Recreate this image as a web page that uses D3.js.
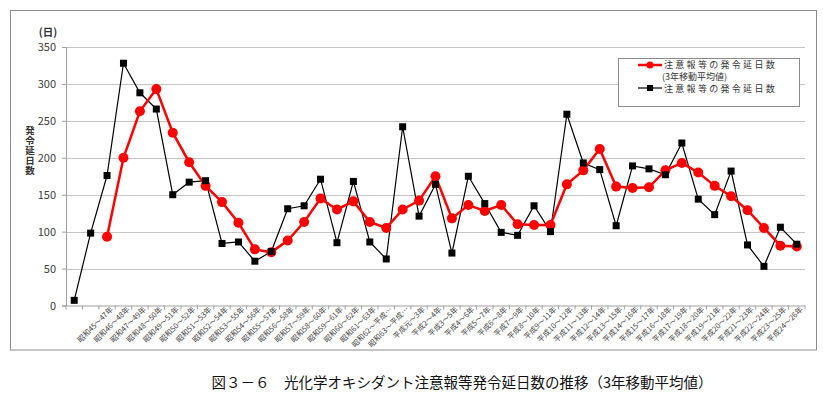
<!DOCTYPE html>
<html>
<head>
<meta charset="utf-8">
<script src="https://cdn.jsdelivr.net/npm/d3@7"></script>
<style>
  body { margin: 0; background: #fff; }
  text { font-family: "Noto Sans CJK JP", "Noto Sans", sans-serif; }
</style>
</head>
<body>
<div id="chart"></div>
<script>
// 年度ラベル（3年移動平均の期間）
var labels = ["", "",
  "昭和45～47年", "昭和46～48年", "昭和47～49年", "昭和48～50年", "昭和49～51年",
  "昭和50～52年", "昭和51～53年", "昭和52～54年", "昭和53～55年", "昭和54～56年",
  "昭和55～57年", "昭和56～58年", "昭和57～59年", "昭和58～60年", "昭和59～61年",
  "昭和60～62年", "昭和61～63年", "昭和62～平成…", "昭和63～平成…",
  "平成元～3年", "平成2～4年", "平成3～5年", "平成4～6年", "平成5～7年",
  "平成6～8年", "平成7～9年", "平成8～10年", "平成9～11年", "平成10～12年",
  "平成11～13年", "平成12～14年", "平成13～15年", "平成14～16年", "平成15～17年",
  "平成16～18年", "平成17～19年", "平成18～20年", "平成19～21年", "平成20～22年",
  "平成21～23年", "平成22～24年", "平成23～25年", "平成24～26年"];

// 注意報等の発令延日数
var days = [7, 98, 176, 328, 288, 266, 150, 167, 169, 84,
  86, 60, 73, 131, 135, 171, 85, 168, 86, 63,
  242, 121, 164, 71, 175, 138, 99, 95, 135, 100,
  259, 193, 184, 108, 189, 185, 177, 220, 144, 123,
  182, 82, 53, 106, 83];

// 3年移動平均値 (先頭2つは値なし)
var avg = [null, null, 93, 200, 263, 293, 234, 194, 162, 140,
  112, 76, 72, 88, 113, 145, 130, 141, 113, 105,
  130, 142, 175, 118, 136, 128, 136, 110, 109, 109,
  164, 183, 212, 161, 159, 160, 183, 193, 180, 162,
  148, 129, 105, 81, 80];

var yTicks = [0, 50, 100, 150, 200, 250, 300, 350];

var W = 823, H = 396;
var pLeft = 66, pRight = 805, pTop = 47, pBottom = 305.5;

var svg = d3.select("#chart").append("svg")
  .attr("width", W).attr("height", H);

// 外枠
svg.append("rect")
  .attr("x", 10.5).attr("y", 10.5)
  .attr("width", 806).attr("height", 339.5)
  .attr("fill", "none").attr("stroke", "#8c8c8c").attr("stroke-width", 1);

var x = d3.scaleBand()
  .domain(d3.range(labels.length))
  .range([pLeft, pRight]);

var y = d3.scaleLinear()
  .domain([0, 350])
  .range([pBottom, pTop]);

// グリッド線
svg.append("g")
  .selectAll("line")
  .data(yTicks.slice(1))
  .enter().append("line")
  .attr("x1", pLeft).attr("x2", pRight)
  .attr("y1", function(d){ return Math.round(y(d)) + 0.5; })
  .attr("y2", function(d){ return Math.round(y(d)) + 0.5; })
  .attr("stroke", "#c4c4c4").attr("stroke-width", 1);

// Y軸
var yAxis = d3.axisLeft(y).tickValues(yTicks).tickSize(4).tickPadding(6);
var gy = svg.append("g")
  .attr("transform", "translate(" + pLeft + ",0)")
  .call(yAxis);
gy.select(".domain").attr("stroke", "#a0a0a0");
gy.selectAll(".tick line").attr("stroke", "#a0a0a0");
gy.selectAll("text")
  .style("font-size", "11px")
  .attr("fill", "#404040");

// X軸
var xAxis = d3.axisBottom(x)
  .tickFormat(function(i){ return labels[i]; })
  .tickSize(0);
var gx = svg.append("g")
  .attr("transform", "translate(0," + pBottom + ")")
  .call(xAxis);
gx.select(".domain").attr("stroke", "#a0a0a0");
gx.selectAll("text")
  .style("font-size", "7.5px")
  .attr("fill", "#404040")
  .style("text-anchor", "end")
  .attr("dx", "0.2em")
  .attr("dy", "0.5em")
  .attr("y", 4)
  .attr("transform", "rotate(-45)");

// 区切りの目盛り
svg.append("g")
  .selectAll("line")
  .data(d3.range(labels.length + 1))
  .enter().append("line")
  .attr("x1", function(i){ return pLeft + i * x.step(); })
  .attr("x2", function(i){ return pLeft + i * x.step(); })
  .attr("y1", pBottom).attr("y2", pBottom + 4)
  .attr("stroke", "#a0a0a0");

// 軸タイトル
svg.append("text")
  .attr("x", 48).attr("y", 36)
  .attr("text-anchor", "middle")
  .style("font-size", "10.5px").style("font-weight", "bold")
  .attr("fill", "#333")
  .text("(日)");

// 縦書きの軸タイトル
svg.append("text")
  .attr("x", 30).attr("y", 126)
  .style("writing-mode", "vertical-rl")
  .style("font-size", "9.5px").style("font-weight", "bold")
  .style("letter-spacing", "0.5px")
  .attr("fill", "#333")
  .text("発令延日数");

var cx = function(i){ return x(i) + x.bandwidth() / 2; };

// 黒線：注意報等の発令延日数
var lineBlack = d3.line()
  .x(function(d, i){ return cx(i); })
  .y(function(d){ return y(d); });

// 赤線：3年移動平均
var lineRed = d3.line()
  .defined(function(d){ return d !== null; })
  .x(function(d, i){ return cx(i); })
  .y(function(d){ return y(d); });

svg.append("path")
  .attr("d", lineBlack(days))
  .attr("fill", "none").attr("stroke", "#000").attr("stroke-width", 1.2);

svg.append("path")
  .attr("d", lineRed(avg))
  .attr("fill", "none").attr("stroke", "#ff0000").attr("stroke-width", 2.5);

svg.append("g").selectAll("circle")
  .data(avg.map(function(v, i){ return {v: v, i: i}; }).filter(function(d){ return d.v !== null; }))
  .enter().append("circle")
  .attr("cx", function(d){ return cx(d.i); })
  .attr("cy", function(d){ return y(d.v); })
  .attr("r", 5)
  .attr("fill", "#ff0000");

svg.append("g").selectAll("rect")
  .data(days)
  .enter().append("rect")
  .attr("x", function(d, i){ return cx(i) - 3.5; })
  .attr("y", function(d){ return y(d) - 3.5; })
  .attr("width", 7).attr("height", 7)
  .attr("fill", "#000");

// 凡例
var lg = svg.append("g");
lg.append("rect")
  .attr("x", 618.5).attr("y", 58.5)
  .attr("width", 181).attr("height", 48)
  .attr("fill", "#fff").attr("stroke", "#8c8c8c");
lg.append("line")
  .attr("x1", 638).attr("x2", 662).attr("y1", 65).attr("y2", 65)
  .attr("stroke", "#ff0000").attr("stroke-width", 2.5);
lg.append("circle").attr("cx", 650).attr("cy", 65).attr("r", 3.5).attr("fill", "#ff0000");
lg.append("text").attr("x", 664).attr("y", 68)
  .style("font-size", "9px").style("letter-spacing", "2.3px").attr("fill", "#333")
  .text("注意報等の発令延日数");
lg.append("text").attr("x", 662).attr("y", 79.5)
  .style("font-size", "9px").attr("fill", "#333")
  .text("(3年移動平均値)");
lg.append("line")
  .attr("x1", 638).attr("x2", 662).attr("y1", 88).attr("y2", 88)
  .attr("stroke", "#000").attr("stroke-width", 1.2);
lg.append("rect").attr("x", 647).attr("y", 85).attr("width", 6).attr("height", 6).attr("fill", "#000");
lg.append("text").attr("x", 664).attr("y", 91.5)
  .style("font-size", "9px").style("letter-spacing", "2.3px").attr("fill", "#333")
  .text("注意報等の発令延日数");

// 図タイトル
svg.append("text")
  .attr("x", 462).attr("y", 388)
  .attr("text-anchor", "middle")
  .style("font-size", "14.5px")
  .attr("fill", "#111")
  .text("図３－６　光化学オキシダント注意報等発令延日数の推移（3年移動平均値）");
</script>
</body>
</html>
